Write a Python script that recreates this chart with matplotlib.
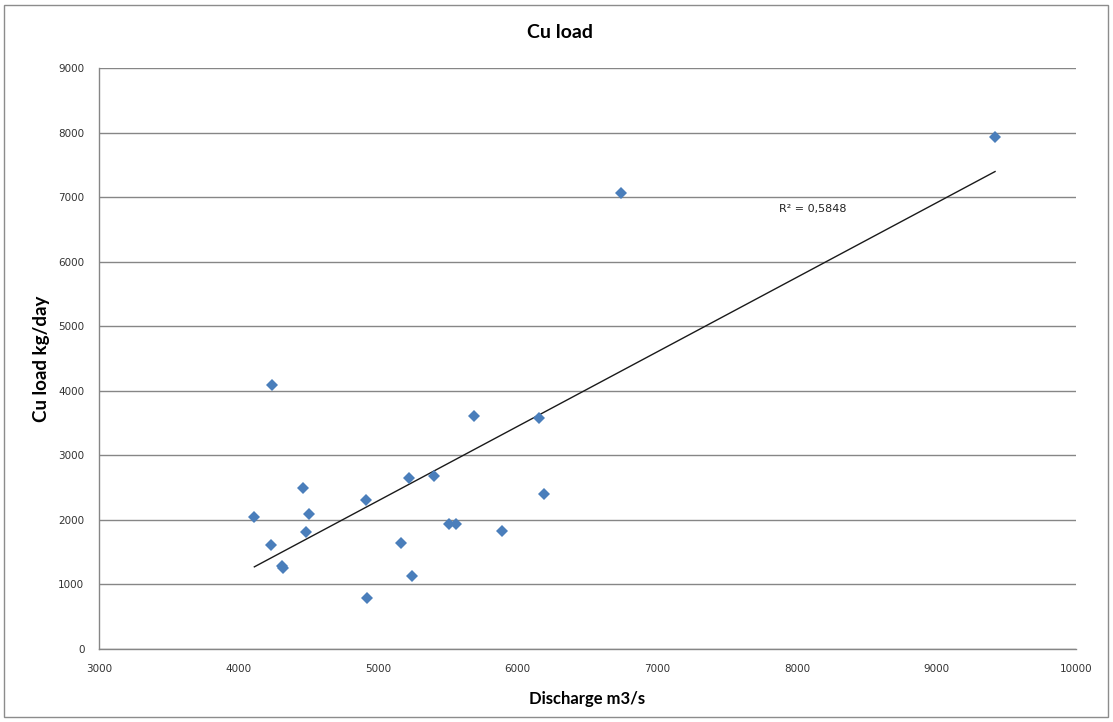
import numpy as np
import matplotlib
matplotlib.use("Agg")
import matplotlib.pyplot as plt
from matplotlib.patches import Rectangle

# Discharge (m3/s) and Cu load (kg/day) per sampling
discharge = [4240, 4464, 4113, 4502, 4481, 4235, 4309, 4316, 4913, 4920,
             5689, 6153, 5224, 5400, 6190, 5510, 5556, 5885, 5163, 5245,
             6740, 9420]
cu_load = [4088, 2501, 2042, 2098, 1814, 1607, 1292, 1251, 2310, 796,
           3612, 3577, 2646, 2682, 2398, 1943, 1943, 1834, 1643, 1127,
           7070, 7933]
r2_label = "R² = 0,5848"
x_ticks = [3000, 4000, 5000, 6000, 7000, 8000, 9000, 10000]
y_ticks = [0, 1000, 2000, 3000, 4000, 5000, 6000, 7000, 8000, 9000]

W, H = 1113, 722
fig = plt.figure(figsize=(W / 100, H / 100), dpi=100)
ax = fig.add_axes([99 / W, 1 - 649 / H, (1076 - 99) / W, (649 - 68) / H])

grid_col = "#868686"
ax.set_xlim(x_ticks[0], x_ticks[-1])
ax.set_ylim(y_ticks[0], y_ticks[-1])
ax.set_xticks(x_ticks)
ax.set_yticks(y_ticks)
ax.yaxis.grid(True, color=grid_col, linewidth=1.0)
ax.set_axisbelow(True)
for side in ("top", "right"):
    ax.spines[side].set_visible(False)
for side in ("left", "bottom"):
    ax.spines[side].set_color(grid_col)
    ax.spines[side].set_linewidth(1.0)
ax.tick_params(length=0, labelsize=7.5, colors="#333333")
ax.tick_params(axis="y", pad=10.5)
ax.tick_params(axis="x", pad=11)
for lbl in ax.get_xticklabels() + ax.get_yticklabels():
    lbl.set_fontfamily("DejaVu Sans")

# Linear trend line over the observed discharge range
xa = np.array(discharge, dtype=float)
ya = np.array(cu_load, dtype=float)
slope, intercept = np.polyfit(xa, ya, 1)
xl = np.array([xa.min(), xa.max()])
ax.plot(xl, slope * xl + intercept, color="#1a1a1a", linewidth=1.0, zorder=2)

ax.plot(discharge, cu_load, linestyle="none", marker="D", markersize=6.0,
        color="#4A7EBB", markeredgewidth=0, zorder=3)

ax.text(7872, 6822, r2_label, fontsize=8, family="DejaVu Sans",
        va="center", ha="left", color="#222222")

ax.set_xlabel("Discharge m3/s", fontsize=12, fontweight="bold",
              family="Lato", labelpad=12)
ax.set_ylabel("Cu load kg/day", fontsize=13.5, fontweight="bold",
              family="Lato", labelpad=6)
fig.text(560 / W, 1 - 33 / H, "Cu load", fontsize=14, fontweight="bold",
         family="Lato", ha="center", va="center")

# Chart area border
fig.patches.append(Rectangle((4 / W, 5 / H), (1108 - 4) / W, (717 - 5) / H,
                             transform=fig.transFigure, fill=False,
                             edgecolor="#8c8c8c", linewidth=1.0))

fig.savefig("out.png", dpi=100)
